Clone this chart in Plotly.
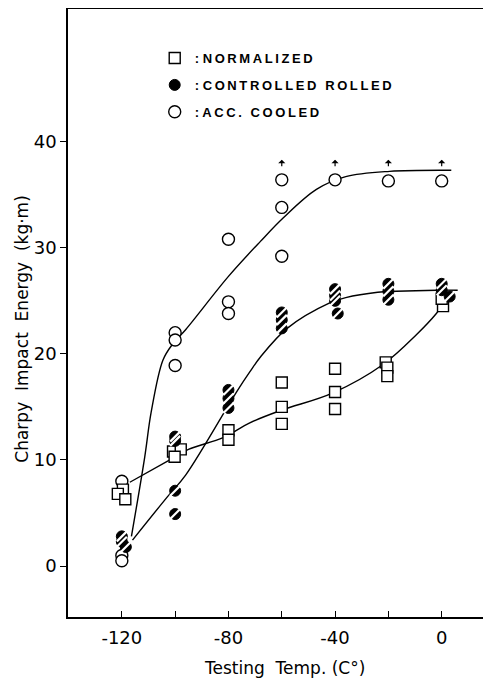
import plotly.graph_objects as go

# ---------------- data ----------------
norm_T = [-119.6, -121.5, -118.7, -100.8, -97.9, -100.2, -80, -80, -60, -60, -60,
          -40, -40, -40, -21, -20.4, -20.4, 0.5, 0]
norm_E = [7.2, 6.8, 6.3, 10.8, 11.0, 10.3, 12.8, 11.9, 17.3, 15.0, 13.4,
          18.6, 16.4, 14.8, 19.2, 18.7, 17.9, 24.5, 25.2]

ctrl_T = [-120, -120, -118.5, -100, -100, -100, -100, -80, -80, -80, -60, -60, -60,
          -40, -40, -40, -39, -20, -20, -20, 0, 0, 3]
ctrl_E = [2.8, 2.3, 1.8, 12.2, 11.8, 7.1, 4.9, 16.6, 15.8, 14.9, 23.9, 23.2, 22.4,
          26.1, 25.5, 25.0, 23.8, 26.6, 25.9, 25.1, 26.6, 26.0, 25.4]

acc_T = [-120, -120, -120, -100, -100, -100, -80, -80, -80, -60, -60, -60, -40, -20, 0]
acc_E = [8.0, 1.0, 0.5, 22.0, 21.3, 18.9, 30.8, 24.9, 23.8, 36.4, 33.8, 29.2, 36.4, 36.3, 36.3]

# fitted curves
norm_curve_T = [-117, -102, -95, -82, -72, -60, -41, -22, -9.5, -2, 0]
norm_curve_E = [7.9, 10.0, 11.0, 12.1, 13.5, 14.7, 16.3, 19.0, 21.8, 23.8, 24.5]

ctrl_curve_T = [-116, -103, -96, -77, -72, -68, -58, -42, -36, -24, -17, -2, 6]
ctrl_curve_E = [2.45, 6.5, 8.6, 16.4, 18.3, 19.7, 22.4, 24.8, 25.3, 25.8, 25.9, 26.0, 26.0]

acc_curve_T = [-116.4, -111.4, -109, -104.6, -101, -96, -80, -68, -59.5, -47, -36, -19.5, 3.6]
acc_curve_E = [2.8, 10.3, 14.5, 19.4, 20.9, 22.3, 27.3, 30.6, 32.8, 35.5, 36.7, 37.2, 37.3]

# "greater than" arrows above the acc. cooled points
arrow_T = [-60, -40, -20, 0]
arrow_E = [38.3, 38.3, 38.3, 38.3]

x_ticks = [-120, -100, -80, -60, -40, -20, 0]
x_tick_text = ["-120", "", "-80", "", "-40", "", "0"]
y_ticks = [0, 10, 20, 30, 40]
y_tick_text = ["0", "10", "20", "30", "40"]

legend_names = ["NORMALIZED", "CONTROLLED ROLLED", "ACC. COOLED"]


def spaced(s):
    return ": " + "\u2009".join(s)


# ---------------- figure ----------------
fig = go.Figure()
line_style = dict(color="black", width=1.4, shape="spline", smoothing=1.0)

for T, E in [(norm_curve_T, norm_curve_E), (ctrl_curve_T, ctrl_curve_E),
             (acc_curve_T, acc_curve_E)]:
    fig.add_trace(go.Scatter(x=T, y=E, mode="lines", line=line_style,
                             showlegend=False, hoverinfo="skip"))

fig.add_trace(go.Scatter(
    x=acc_T, y=acc_E, mode="markers", name=spaced(legend_names[2]), legendrank=3,
    legendgroup="acc",
    marker=dict(symbol="circle", size=12, color="white",
                line=dict(color="black", width=1.4))))

fig.add_trace(go.Scatter(
    x=norm_T, y=norm_E, mode="markers", name=spaced(legend_names[0]), legendrank=1,
    legendgroup="norm",
    marker=dict(symbol="square", size=11, color="white",
                line=dict(color="black", width=1.4))))

fig.add_trace(go.Scatter(
    x=ctrl_T, y=ctrl_E, mode="markers", name=spaced(legend_names[1]), legendrank=2,
    legendgroup="ctrl",
    marker=dict(symbol="circle", size=11, color="black",
                line=dict(color="black", width=1))))
fig.add_trace(go.Scatter(
    x=ctrl_T, y=ctrl_E, mode="markers", showlegend=False, hoverinfo="skip",
    legendgroup="ctrl",
    marker=dict(symbol="line-ne", size=10, color="white",
                line=dict(color="white", width=2.2))))

annotations = []
for t, e in zip(arrow_T, arrow_E):
    annotations.append(dict(x=t, y=e, xref="x", yref="y", ax=0, ay=8, text="",
                            showarrow=True, arrowhead=1, arrowsize=1,
                            arrowwidth=1.2, arrowcolor="black"))

title_font = dict(family="DejaVu Sans", size=17, color="black")
annotations.append(dict(text="Charpy  Impact  Energy  (kg·m)", x=-0.109, y=0.474,
                        xref="paper", yref="paper", textangle=-90, showarrow=False,
                        xanchor="center", yanchor="middle", font=title_font))
annotations.append(dict(text="Testing  Temp. (C°)", x=0.513, y=-0.084,
                        xref="paper", yref="paper", showarrow=False,
                        xanchor="center", yanchor="middle", font=title_font))

# The page body has an 8px margin, so the figure is sized to the visible area.
fig.update_layout(
    width=483, height=672,
    margin=dict(l=60, r=0, t=1, b=63),
    paper_bgcolor="white", plot_bgcolor="white",
    annotations=annotations,
    showlegend=True,
    legend=dict(x=0.205, y=0.944, xanchor="left", yanchor="top",
                bgcolor="rgba(0,0,0,0)", traceorder="grouped",
                font=dict(family="Liberation Sans", size=13, color="black",
                          weight="bold"),
                itemwidth=30, tracegroupgap=7),
    font=dict(family="DejaVu Sans", color="black"),
)

fig.update_xaxes(range=[-140.2, 18.5], showgrid=False, zeroline=False,
                 showline=True, linecolor="black", linewidth=1.5, mirror=True,
                 ticks="inside", ticklen=6, tickwidth=1.3, tickcolor="black",
                 tickvals=x_ticks, ticktext=x_tick_text, ticklabelstandoff=4,
                 tickfont=dict(family="DejaVu Sans", size=18, color="black"))
fig.update_yaxes(range=[-4.8, 52.5], showgrid=False, zeroline=False,
                 showline=True, linecolor="black", linewidth=1.5,
                 ticks="outside", ticklen=6, tickwidth=1.3, tickcolor="black",
                 tickvals=y_ticks, ticktext=y_tick_text, ticklabelstandoff=0,
                 tickfont=dict(family="DejaVu Sans", size=18, color="black"))

fig.write_html("out.html")
